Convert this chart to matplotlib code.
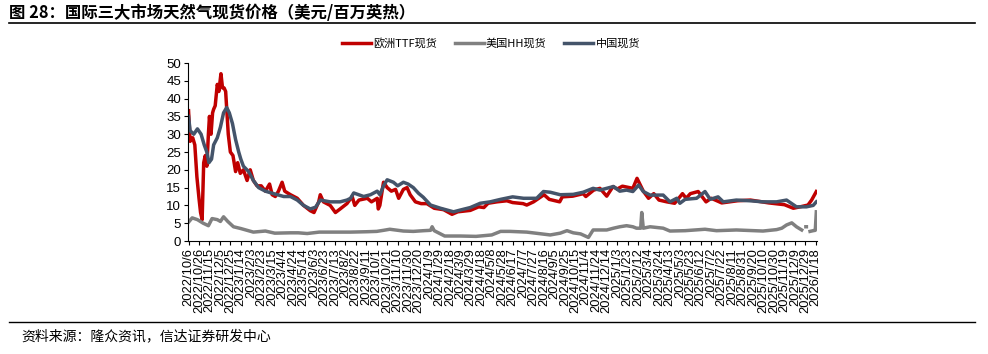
import matplotlib
matplotlib.use("Agg")
import matplotlib.pyplot as plt
import numpy as np
import pandas as pd

plt.rcParams['font.family'] = ['Noto Sans CJK SC', 'DejaVu Sans']

start = pd.Timestamp('2022-10-06')

# days after 2022-10-06 and values (USD/MMBtu)
ttf_days = [0, 3, 8, 12, 16, 20, 23, 26, 29, 32, 35, 38, 40, 43, 46, 48, 51, 55, 58, 62, 65, 68, 71, 76, 80,
            85, 90, 94, 99, 105, 112, 118, 124, 131, 139, 147, 155, 160, 166, 172, 179, 184, 195, 208, 220,
            233, 240, 249, 252, 258, 271, 281, 290, 303, 313, 318, 326, 342, 350, 361, 363, 366, 373, 380,
            388, 396, 402, 411, 418, 424, 434, 445, 456, 470, 488, 504, 515, 539, 555, 565, 573, 590, 609,
            620, 640, 647, 660, 680, 690, 710, 715, 735, 755, 760, 775, 787, 800, 812, 820, 830, 850, 858,
            870, 880, 890, 900, 915, 930, 945, 952, 960, 975, 990, 1000, 1020, 1050, 1075, 1110, 1140,
            1157, 1170, 1185, 1192, 1201]
ttf_vals = [36.6, 28, 29, 27, 18, 12, 8, 6, 22, 24, 21, 30, 35, 30, 36, 37, 38, 44, 42, 47, 43, 43, 42, 30, 25,
            24, 19.5, 22, 19, 20, 17, 20, 17, 15.5, 15.5, 14, 16, 13, 12.5, 14, 16.5, 14, 13, 12, 10,
            8.5, 8, 11, 13, 11, 10, 8, 9, 10.5, 12.5, 10, 11.5, 12, 11, 12, 9, 10, 16.5, 15,
            14, 14.5, 12, 14.5, 15, 13, 11, 10.5, 10.5, 9.2, 8.8, 7.5, 8.2, 8.6, 9.6, 9.4, 10.6, 11, 11.3,
            10.8, 10.5, 10.1, 11, 13, 11.7, 11, 12.4, 12.6, 13.3, 12.5, 14.3, 14.8, 12.6, 15.3, 14.6, 15.4, 14.8, 17.6,
            14, 12, 13.3, 11.5, 11, 10.6, 13.3, 12, 13.3, 13.9, 11, 12, 10.7, 11.3, 11.5, 10.7, 10.2,
            9.2, 9.6, 10.1, 11.5, 13.9]

hh_days = [0, 7, 17, 28, 38, 45, 55, 61, 67, 75, 86, 100, 112, 124, 147, 165, 195, 210, 227, 250, 280, 310,
           340, 360, 373, 385, 411, 430, 450, 463, 466, 470, 482, 490, 520, 550, 580, 597, 615, 647, 692,
           711, 724, 736, 750, 765, 774, 800, 813, 825, 838, 850, 857, 865, 867, 870, 883, 908, 921, 950,
           988, 1010, 1048, 1099, 1125, 1135, 1144, 1154, 1163, 1173, 1176, 1181, 1182, 1183, 1187, 1189,
           1195, 1199, 1201]
hh_vals = [5.3, 6.5, 6, 5, 4.3, 6.3, 6, 5.5, 6.8, 5.5, 4, 3.5, 3, 2.5, 2.8, 2.2, 2.3, 2.3, 2.1, 2.5, 2.5, 2.5,
           2.6, 2.7, 3.0, 3.3, 2.8, 2.7, 2.9, 3.0, 4.0, 2.9, 2.0, 1.4, 1.4, 1.3, 1.7, 2.7, 2.7, 2.5, 1.7,
           2.2, 2.9, 2.3, 2.0, 1.0, 3.1, 3.1, 3.6, 4.0, 4.3, 4.0, 3.6, 3.6, 8.0, 3.6, 4.0, 3.6, 2.8, 2.9,
           3.3, 2.9, 3.1, 2.8, 3.2, 3.6, 4.5, 5.1, 4.0, 3.1, np.nan, 4.0, 4.0, np.nan, np.nan, 2.7,
           2.9, 3.0, 8.2]

cn_days = [0, 3, 10, 17, 24, 30, 35, 39, 44, 48, 55, 61, 67, 73, 78, 84, 90, 96, 100, 105, 115, 124, 134,
           147, 158, 170, 182, 195, 208, 220, 233, 243, 252, 271, 290, 303, 310, 316, 335, 348, 361, 366,
           373, 380, 392, 400, 411, 420, 430, 440, 449, 463, 482, 507, 520, 539, 558, 577, 597, 620, 641,
           666, 679, 692, 711, 736, 755, 774, 787, 813, 825, 838, 850, 861, 870, 883, 908, 921, 934, 940,
           950, 972, 988, 998, 1013, 1023, 1048, 1074, 1099, 1125, 1144, 1163, 1182, 1195, 1201]
cn_vals = [35, 31, 30, 31.5, 30, 27, 25, 22, 23, 27, 29, 32, 36, 37.5, 36, 33, 28.5, 25, 23, 21, 19.5, 17, 15,
           14, 13.5, 13, 12.5, 12.5, 11.5, 10, 9, 9.5, 11.5, 11, 11, 11.5, 12, 13.5, 12.5, 13, 14, 13,
           15.5, 17.2, 16.5, 15.5, 16.5, 16, 15, 13.4, 12.3, 10.1, 9.2, 8.2, 8.7, 9.4, 10.6, 11, 11.7, 12.4, 12,
           12, 13.9, 13.7, 13, 13.1, 13.7, 14.8, 14.3, 15.3, 14, 14.3, 13.9, 15.7, 13.9, 12.9, 12.9, 11, 12, 10.6,
           11.7, 12, 13.9, 11.7, 12.4, 11, 11.5, 11.3, 11, 11, 11.5, 9.6, 9.6, 10, 11]

series_names = ['欧洲TTF现货', '美国HH现货', '中国现货']
series_colors = ['#C00000', '#808080', '#44546A']

title = '图 28：国际三大市场天然气现货价格（美元/百万英热）'
source = '资料来源：隆众资讯，信达证券研发中心'

tick_dates = pd.date_range('2022-10-06', '2026-01-18', freq='20D')


def to_dates(days):
    return start + pd.to_timedelta(days, unit='D')


fig = plt.figure(figsize=(9.88, 3.54), dpi=100)
ax = fig.add_axes([0.1903, 0.3192, 0.637, 0.5028])

for days, vals, name, col in zip([ttf_days, hh_days, cn_days], [ttf_vals, hh_vals, cn_vals],
                                 series_names, series_colors):
    ax.plot(to_dates(days), vals, color=col, lw=2.5, label=name, solid_joinstyle='round')

ax.set_ylim(0, 50)
ax.set_yticks(np.arange(0, 51, 5))
ax.set_xlim(start - pd.Timedelta(days=1), pd.Timestamp('2026-01-21'))
ax.set_xticks(tick_dates)
ax.set_xticklabels([f'{d.year}/{d.month}/{d.day}' for d in tick_dates], rotation=90,
                   fontsize=9.3, family=['Liberation Sans', 'DejaVu Sans'])
for lab in ax.get_yticklabels():
    lab.set_fontsize(9.5)
    lab.set_family(['Liberation Sans', 'DejaVu Sans'])
ax.tick_params(axis='x', direction='out', length=3, width=0.8, pad=2)
ax.tick_params(axis='y', direction='out', length=3, width=0.8, pad=2)
for s in ['top', 'right']:
    ax.spines[s].set_visible(False)
for s in ['left', 'bottom']:
    ax.spines[s].set_linewidth(0.8)
    ax.spines[s].set_color('black')

leg = fig.legend(loc='center', bbox_to_anchor=(0.497, 0.877), ncol=3, frameon=False, fontsize=8,
                 handlelength=2.6, columnspacing=1.6, handletextpad=0.2)

fig.text(0.009, 0.963, title, fontsize=11.8, fontweight='bold', va='center', ha='left')
fig.add_artist(plt.Line2D([0.009, 0.987], [0.936, 0.936], color='black', lw=1.2, transform=fig.transFigure))
fig.add_artist(plt.Line2D([0.009, 0.987], [0.089, 0.089], color='black', lw=1.0, transform=fig.transFigure))
fig.text(0.022, 0.05, source, fontsize=10, va='center', ha='left', style='italic')

fig.savefig('out.png', dpi=100)
